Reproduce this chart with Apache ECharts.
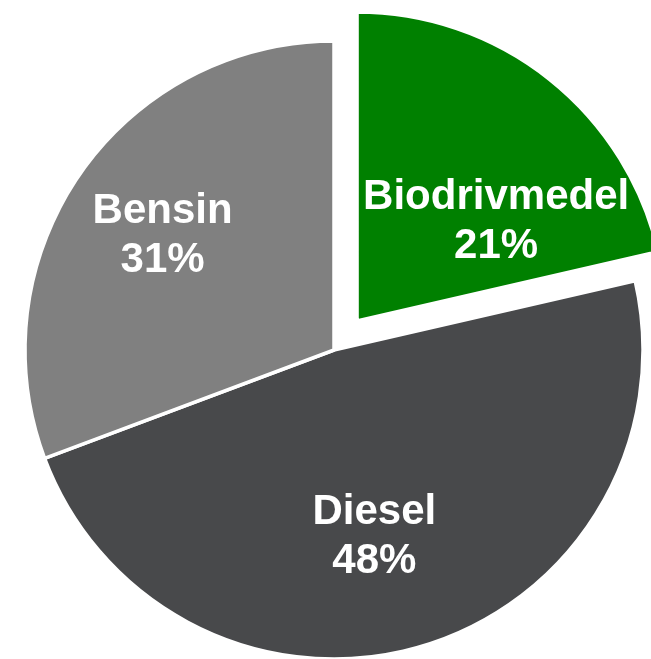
<!DOCTYPE html>
<html>
<head>
<meta charset="utf-8">
<script src="https://cdn.jsdelivr.net/npm/echarts@6/dist/echarts.min.js"></script>
<style>
  html, body { margin: 0; padding: 0; background: #fff; }
  #chart { width: 651px; height: 659px; }
</style>
</head>
<body>
<div id="chart"></div>
<script>
// andelar (procent)
const categories = ["Biodrivmedel", "Diesel", "Bensin"];
const values = [21.4, 47.9, 30.7];
const colors = ["#008000", "#48494b", "#808080"];
// etikettförskjutning per tårtbit
const labelOffsets = [[41, 24], [-5, 36], [-42, -24]];

const chart = echarts.init(document.getElementById("chart"));

const pieData = categories.map((name, i) => ({
  name: name,
  value: values[i],
  selected: i === 0,
  itemStyle: { color: colors[i] },
  label: { offset: labelOffsets[i] },
  select: {
    itemStyle: { color: colors[i], borderColor: "#fff", borderWidth: 3.5 },
    label: { offset: labelOffsets[i], color: "#fff" }
  }
}));

chart.setOption({
  animation: false,
  series: [
    {
      type: "pie",
      center: [334, 350],
      radius: [0, 309],
      startAngle: 90,
      clockwise: true,
      percentPrecision: 0,
      selectedMode: "single",
      selectedOffset: 37,
      silent: true,
      itemStyle: { borderColor: "#fff", borderWidth: 3.5 },
      label: {
        show: true,
        position: "inside",
        formatter: "{b}\n{d}%",
        color: "#fff",
        fontFamily: "Liberation Sans, Arial, sans-serif",
        fontWeight: "bold",
        fontSize: 42,
        lineHeight: 49,
        align: "center"
      },
      labelLine: { show: false },
      data: pieData
    }
  ]
});
</script>
</body>
</html>
